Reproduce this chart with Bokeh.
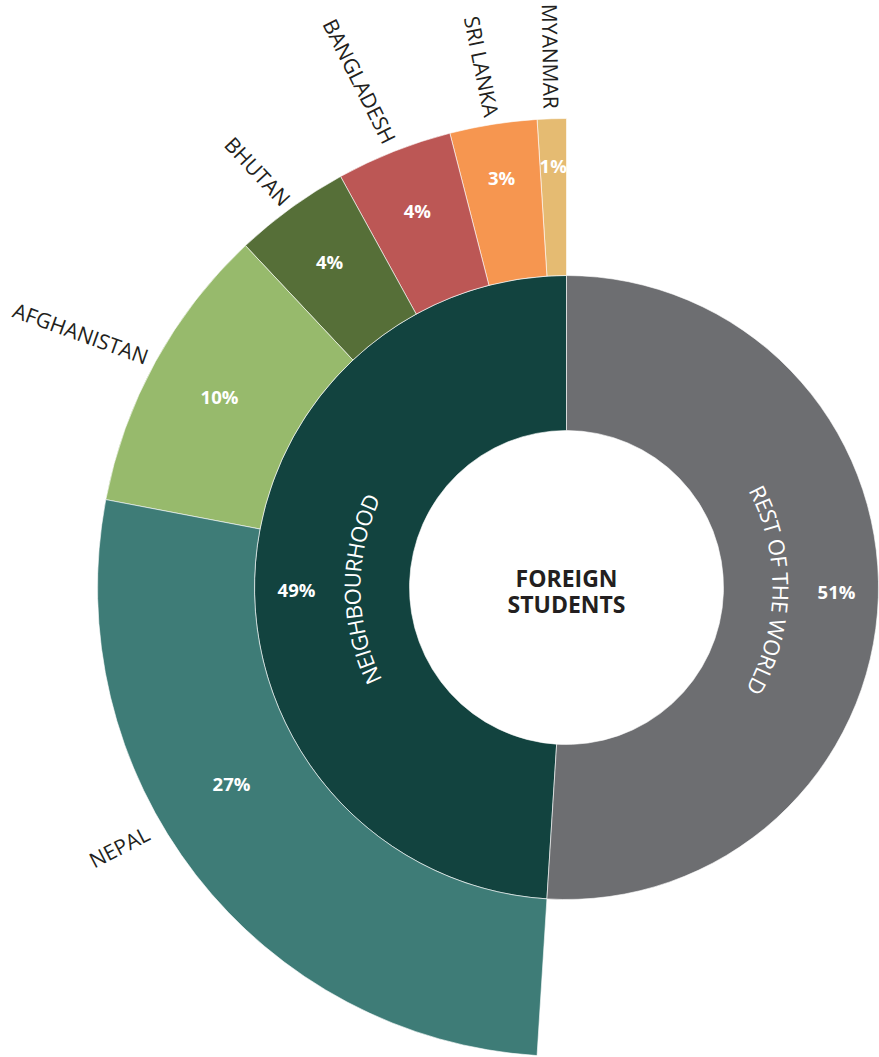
import math
from bokeh.plotting import figure
from bokeh.models import ColumnDataSource
from bokeh.core.properties import value
from bokeh.embed import file_html
from bokeh.resources import INLINE

# ---------------- data ----------------
GROUPS = ["NEIGHBOURHOOD", "REST OF THE WORLD"]
GROUP_PCT = [49, 51]
COUNTRIES = ["MYANMAR", "SRI LANKA", "BANGLADESH", "BHUTAN", "AFGHANISTAN", "NEPAL"]
COUNTRY_PCT = [1, 3, 4, 4, 10, 27]
CENTER_TITLE = ["FOREIGN", "STUDENTS"]

# ---------------- style ----------------
GROUP_COLORS = ["#12433f", "#6d6e71"]
COUNTRY_COLORS = ["#e5bb72", "#f69650", "#bc5755", "#566f38", "#97ba6c", "#3e7c77"]
PCT_LABEL_R = [422, 415, 405, 403, 396, 388]
NAME_LABEL_R = [479, 477, 479, 476, 478, 485]
LABEL_ANGLE_SHIFT = [0, 0, 0, 0, 0, -7.5]
NAME_ROT_SHIFT = [-0.8, 2.5, 5, 7, 9, -3]
GROUP_ANGLE_SHIFT = [2.3, 1.0]
FONT = "Open Sans"
TEXT_DARK = "#231f20"

R0, R1, R2 = 157, 312, 469
W, H = 879, 1057
CX, CY = 566, 587  # ring centre inside the figure, pixels from top-left

DEG = 360.0 / 100.0
START = 90.0

# Open Sans advance widths (em) for curved text layout
ADV = {"A": .633, "B": .648, "C": .631, "D": .729, "E": .556, "F": .516, "G": .728,
       "H": .738, "I": .279, "K": .637, "L": .524, "M": .903, "N": .760, "O": .781,
       "P": .609, "R": .626, "S": .549, "T": .556, "U": .738, "W": .962, "Y": .578,
       " ": .26}

p = figure(width=W, height=H, x_range=(-CX, W - CX), y_range=(CY - H, CY),
           output_backend="svg", toolbar_location=None, min_border=0,
           x_axis_location=None, y_axis_location=None,
           background_fill_color="white", border_fill_color="white",
           outline_line_color=None)
p.grid.visible = False


def spans(pcts):
    out, cum = [], 0.0
    for v in pcts:
        out.append((START + cum * DEG, START + (cum + v) * DEG))
        cum += v
    return out


# inner ring
g_sp = spans(GROUP_PCT)
gsrc = ColumnDataSource(dict(
    start=[math.radians(a) for a, b in g_sp],
    end=[math.radians(b) for a, b in g_sp],
    color=GROUP_COLORS))
p.annular_wedge(x=0, y=0, inner_radius=R0, outer_radius=R1, start_angle="start",
                end_angle="end", direction="anticlock", fill_color="color",
                line_color="white", line_width=0.6, source=gsrc)

# outer ring (neighbourhood breakdown)
c_sp = spans(COUNTRY_PCT)
csrc = ColumnDataSource(dict(
    start=[math.radians(a) for a, b in c_sp],
    end=[math.radians(b) for a, b in c_sp],
    color=COUNTRY_COLORS))
p.annular_wedge(x=0, y=0, inner_radius=R1, outer_radius=R2, start_angle="start",
                end_angle="end", direction="anticlock", fill_color="color",
                line_color="white", line_width=0.6, source=csrc)

# outer percentages and names
px, py, pt = [], [], []
nx, ny, nt, nr, na = [], [], [], [], []
for i, (name, v) in enumerate(zip(COUNTRIES, COUNTRY_PCT)):
    a, b = c_sp[i]
    mid = (a + b) / 2 + LABEL_ANGLE_SHIFT[i]
    m = math.radians(mid)
    px.append(PCT_LABEL_R[i] * math.cos(m))
    py.append(PCT_LABEL_R[i] * math.sin(m))
    pt.append(f"{v}%")
    nx.append(NAME_LABEL_R[i] * math.cos(m))
    ny.append(NAME_LABEL_R[i] * math.sin(m))
    nt.append(name)
    if 90 < mid < 270:
        nr.append(math.radians(mid - 180 + NAME_ROT_SHIFT[i]))
        na.append("right")
    else:
        nr.append(math.radians(mid + NAME_ROT_SHIFT[i]))
        na.append("left")

p.text(x=px, y=py, text=pt, text_align="center", text_baseline="middle",
       text_color="white", text_font=value(FONT), text_font_style="bold",
       text_font_size="18.5px")
p.text(x="x", y="y", text="t", angle="a", text_align="al", text_baseline="middle",
       text_color=TEXT_DARK, text_font=value(FONT), text_font_size="21px",
       source=ColumnDataSource(dict(x=nx, y=ny, t=nt, a=nr, al=na)))

# inner labels: curved group names + percentages
LABEL_R_INNER = 215
PCT_R_INNER = 270
FS_INNER = 22
cx_, cy_, ct_, ca_ = [], [], [], []
gx, gy, gt = [], [], []
for i, (name, v) in enumerate(zip(GROUPS, GROUP_PCT)):
    a, b = g_sp[i]
    mid = (a + b) / 2 + GROUP_ANGLE_SHIFT[i]
    m = math.radians(mid)
    gx.append(PCT_R_INNER * math.cos(m))
    gy.append(PCT_R_INNER * math.sin(m))
    gt.append(f"{v}%")
    widths = [ADV.get(ch, .6) * FS_INNER for ch in name]
    total = sum(widths)
    span_deg = math.degrees(total / LABEL_R_INNER)
    pos = 0.0
    for ch, w in zip(name, widths):
        phi = mid + span_deg / 2 - math.degrees((pos + w / 2) / LABEL_R_INNER)
        pos += w
        if ch == " ":
            continue
        ph = math.radians(phi)
        cx_.append(LABEL_R_INNER * math.cos(ph))
        cy_.append(LABEL_R_INNER * math.sin(ph))
        ct_.append(ch)
        ca_.append(math.radians(phi - 90))

p.text(x=cx_, y=cy_, text=ct_, angle=ca_, text_align="center", text_baseline="middle",
       text_color="white", text_font=value(FONT), text_font_size=f"{FS_INNER}px")
p.text(x=gx, y=gy, text=gt, text_align="center", text_baseline="middle",
       text_color="white", text_font=value(FONT), text_font_style="bold",
       text_font_size="18.5px")

# centre title
LINE_H = 26
OFFSET = -3
ty = [OFFSET + LINE_H / 2 - k * LINE_H for k in range(len(CENTER_TITLE))]
p.text(x=[0] * len(CENTER_TITLE), y=ty, text=CENTER_TITLE, text_align="center",
       text_baseline="middle", text_color=TEXT_DARK, text_font=value(FONT),
       text_font_style="bold", text_font_size="23px")

open("out.html", "w").write(file_html(p, INLINE))
